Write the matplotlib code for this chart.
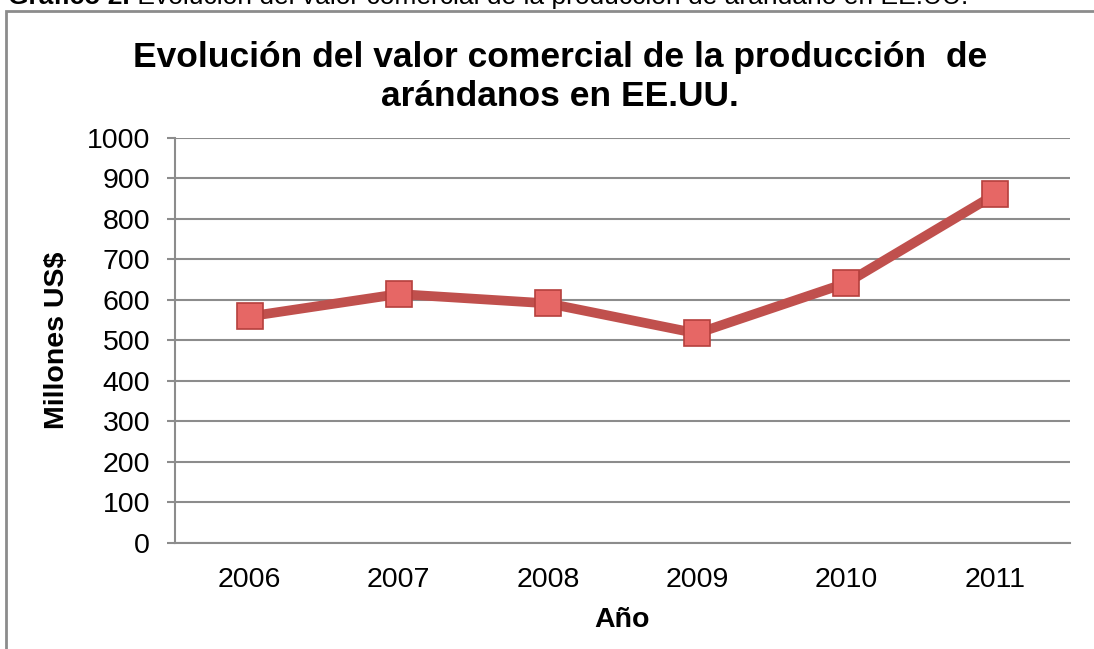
import matplotlib.pyplot as plt
from matplotlib.patches import Rectangle

plt.rcParams['font.family'] = ['Liberation Sans', 'DejaVu Sans']

years = ['2006', '2007', '2008', '2009', '2010', '2011']
valor = [559, 614, 591, 517, 641, 860]
y_ticks = [0, 100, 200, 300, 400, 500, 600, 700, 800, 900, 1000]

fig = plt.figure(figsize=(10.94, 6.49), dpi=100)
ax = fig.add_axes([0.16, 0.1633, 0.818, 0.6248])

# outer chart frame (partly outside the picture)
fig.patches.append(Rectangle((6 / 1094, -0.2), 1.2, 1.2 - 11 / 649,
                             transform=fig.transFigure, fill=False,
                             edgecolor='#8c8c8c', linewidth=2))

# caption cut off at the top, as in the source page
t1 = fig.text(8 / 1094, 1 - 9 / 649, 'Gráfico 2.', fontsize=19,
              fontweight='bold', va='bottom', ha='left')
ax.annotate(' Evolución del valor comercial de la producción de arándano en EE.UU.',
            xy=(1, 0), xycoords=t1, fontsize=19, va='bottom', ha='left',
            annotation_clip=False)

x = range(len(years))
ax.plot(x, valor, color='#C0504D', linewidth=7, zorder=3,
        marker='s', markersize=19, markerfacecolor='#E66765',
        markeredgecolor='#B5403D', markeredgewidth=1.2)

ax.set_xlim(-0.5, len(years) - 0.5)
ax.set_ylim(0, 1000)
ax.set_xticks(list(x))
ax.set_xticklabels(years)
ax.set_yticks(y_ticks)
ax.tick_params(axis='y', labelsize=20.5, length=6, width=1.5, color='#8c8c8c', pad=12)
ax.tick_params(axis='x', labelsize=20.5, length=0, pad=17)

ax.grid(axis='y', color='#8c8c8c', linewidth=1.5)
ax.set_axisbelow(True)
for s in ['top', 'right']:
    ax.spines[s].set_visible(False)
for s in ['left', 'bottom']:
    ax.spines[s].set_color('#8c8c8c')
    ax.spines[s].set_linewidth(1.5)

ax.set_ylabel('Millones US$', fontsize=20.5, fontweight='bold', labelpad=12)
ax.set_xlabel('Año', fontsize=20.5, fontweight='bold', labelpad=10)
fig.text(0.512, 1 - 77 / 649, 'Evolución del valor comercial de la producción  de\narándanos en EE.UU.',
         fontsize=25.5, fontweight='bold', ha='center', va='center', linespacing=1.2)

fig.savefig('out.png', dpi=100)
